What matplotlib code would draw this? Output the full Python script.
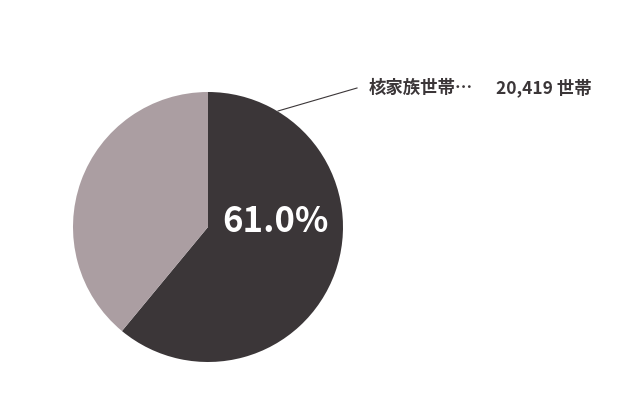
import matplotlib.pyplot as plt

plt.rcParams['font.family'] = ['Noto Sans CJK JP', 'DejaVu Sans']

# data
labels = ['核家族世帯', 'その他']
shares = [61.0, 39.0]
households = 20419
colors = ['#3b3638', '#ab9ea2']

fig = plt.figure(figsize=(6.3, 4.2), dpi=100)
ax = fig.add_axes([0, 0, 1, 1])

# pie centred at pixel (208, 227) from top
cx, cy, r = 208, 420 - 227, 135
ax.pie(shares, colors=colors, startangle=90, counterclock=False,
       center=(cx, cy), radius=r, frame=True,
       wedgeprops=dict(linewidth=0))
ax.set_xlim(0, 630)
ax.set_ylim(0, 420)
ax.set_aspect('equal')
ax.axis('off')

ax.text(cx + 14, cy + 5, f'{shares[0]:.1f}%', color='white', fontsize=25,
        fontweight='bold', ha='left', va='center')

# leader line and label
ax.plot([278, 357], [420 - 111, 420 - 88], color='#3b3638', lw=0.8)
ax.text(369, 420 - 88, labels[0] + '…', color='#3b3638', fontsize=12.5,
        fontweight='bold', ha='left', va='center')
ax.text(592, 420 - 88, f'{households:,} 世帯', color='#3b3638', fontsize=12.5,
        fontweight='bold', ha='right', va='center')

fig.savefig('out.png', dpi=100)
